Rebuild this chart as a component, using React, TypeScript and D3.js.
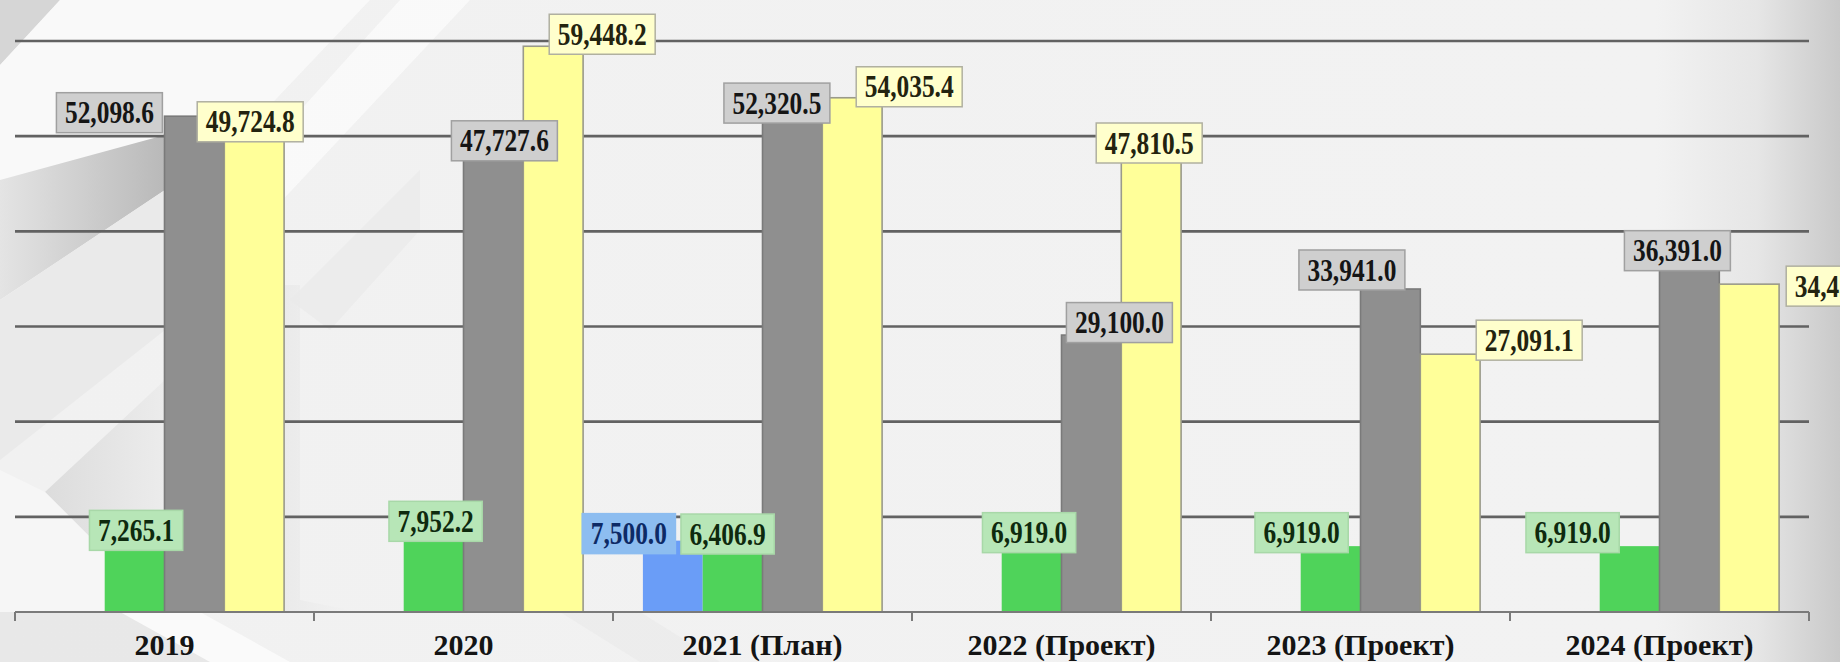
import React from "react";
import * as d3 from "d3";

const categories = ["2019", "2020", "2021 (План)", "2022 (Проект)", "2023 (Проект)", "2024 (Проект)"];
const seriesKeys = ["blue", "green", "gray", "yellow"];
const blueValues: (number | null)[] = [null, null, 7500.0, null, null, null];
const greenValues: (number | null)[] = [7265.1, 7952.2, 6406.9, 6919.0, 6919.0, 6919.0];
const grayValues: (number | null)[] = [52098.6, 47727.6, 52320.5, 29100.0, 33941.0, 36391.0];
const yellowValues: (number | null)[] = [49724.8, 59448.2, 54035.4, 47810.5, 27091.1, 34450.0];
const yTicks = [10000, 20000, 30000, 40000, 50000, 60000];

// label box centre offsets from the top-centre of each bar (layout only)
const blueLabelOffsets = [[0, 0], [0, 0], [-44, -7], [0, 0], [0, 0], [0, 0]];
const greenLabelOffsets = [[1.5, -12.5], [2, -15], [-5, -17], [-2.5, -13.5], [-29, -13.5], [-57, -13.5]];
const grayLabelOffsets = [[-85, -3.5], [11, -17], [-15.5, -11], [28, -12.5], [-38.5, -19], [-12, -15]];
const yellowLabelOffsets = [[-4, -17], [49, -12], [57, -11], [-2, -14], [79, -14], [90, 2]];

const W = 1840;
const H = 662;

const styles: Record<string, any> = {
  blue: { bar: "#6a9df7", stroke: "none", box: "#8dbdf0", boxStroke: "#8dbdf0", text: "#0d2a66" },
  green: { bar: "#4fd35a", stroke: "none", box: "#b7e6b7", boxStroke: "#a8d8a8", text: "#0e2a0e" },
  gray: { bar: "#8f8f8f", stroke: "#7a7a7a", box: "#cfcfcf", boxStroke: "#a0a0a0", text: "#151515" },
  yellow: { bar: "#ffff99", stroke: "#9a9a8a", box: "#ffffcc", boxStroke: "#b0b0a0", text: "#23230f" },
};

export default function App() {
  const x = d3.scaleBand<string>().domain(categories).range([15, 1809]).paddingInner(0).paddingOuter(0);
  const bw = x.bandwidth();
  const x1 = d3.scaleBand<string>().domain(seriesKeys).range([bw * 0.1, bw * 0.9]).padding(0);
  const y = d3.scaleLinear().domain([0, 60000]).range([612, 41]);
  const fmt = d3.format(",.1f");

  const seriesValues: Record<string, (number | null)[]> = {
    blue: blueValues,
    green: greenValues,
    gray: grayValues,
    yellow: yellowValues,
  };
  const seriesOffsets: Record<string, number[][]> = {
    blue: blueLabelOffsets,
    green: greenLabelOffsets,
    gray: grayLabelOffsets,
    yellow: yellowLabelOffsets,
  };

  const fontSize = 31;
  const sx = 0.82;
  const textWidth = (s: string) => {
    let w = 0;
    for (const ch of s) w += ch === "," || ch === "." ? 0.25 : 0.5;
    return w * fontSize * sx;
  };

  const bars: any[] = [];
  const labels: any[] = [];
  seriesKeys.forEach((k) => {
    seriesValues[k].forEach((v, i) => {
      if (v == null) return;
      const bx = (x(categories[i]) as number) + (x1(k) as number);
      const by = y(v);
      const st = styles[k];
      bars.push(
        <rect key={`b-${k}-${i}`} x={bx} y={by} width={x1.bandwidth()} height={y(0) - by}
          fill={st.bar} stroke={st.stroke} strokeWidth={st.stroke === "none" ? 0 : 1.6} />
      );
      const [dx, dy] = seriesOffsets[k][i];
      const cx = bx + x1.bandwidth() / 2 + dx;
      const cy = by + dy;
      const txt = fmt(v);
      const bwid = textWidth(txt) + 17;
      labels.push(
        <g key={`l-${k}-${i}`} transform={`translate(${cx},${cy})`}>
          <rect x={-bwid / 2} y={-20} width={bwid} height={40} fill={st.box} stroke={st.boxStroke} strokeWidth={1.5} />
          <text transform={`scale(${sx},1)`} textAnchor="middle" y={10.5} fontFamily="'Liberation Serif', 'Times New Roman', serif"
            fontWeight="bold" fontSize={fontSize} fill={st.text}>{txt}</text>
        </g>
      );
    });
  });

  return (
    <svg width={W} height={H} style={{ position: "absolute", left: 0, top: 0, display: "block" }}>
      <defs>
        <linearGradient id="bg" x1="0" y1="0" x2="1" y2="0">
          <stop offset="0" stopColor="#f1f1f1" />
          <stop offset="0.9" stopColor="#f2f2f2" />
          <stop offset="0.955" stopColor="#e6e6e6" />
          <stop offset="1" stopColor="#c9c9c9" />
        </linearGradient>
        <linearGradient id="wedge" x1="0" y1="0" x2="1" y2="0">
          <stop offset="0" stopColor="#e4e4e4" />
          <stop offset="1" stopColor="#b9b9b9" />
        </linearGradient>
        <linearGradient id="chev" x1="0" y1="0" x2="1" y2="0">
          <stop offset="0" stopColor="#dcdcdc" />
          <stop offset="1" stopColor="#ececec" />
        </linearGradient>
        <linearGradient id="chev2" x1="0" y1="0" x2="1" y2="0">
          <stop offset="0" stopColor="#e6e6e6" />
          <stop offset="1" stopColor="#f3f3f3" />
        </linearGradient>
      </defs>
      <rect x={0} y={0} width={W} height={H} fill="url(#bg)" />
      {/* decorative background shapes */}
      <polygon points="0,0 60,0 0,65" fill="#d6d6d6" />
      <polygon points="60,0 370,0 0,390 0,65" fill="#fafafa" opacity={0.9} />
      <polygon points="400,0 470,0 170,320 165,260" fill="#fbfbfb" opacity={0.8} />
      <polygon points="0,180 165,135 165,190 0,300" fill="url(#wedge)" />
      <polygon points="0,300 165,190 165,330 0,460" fill="#eaeaea" />
      <polygon points="45,492 165,380 165,612 " fill="url(#chev)" />
      <polygon points="0,470 45,492 165,612 0,612" fill="#f6f6f6" />
      <polygon points="285,285 300,285 300,600 360,612 285,612" fill="url(#chev2)" opacity={0.6} />
      <polygon points="290,300 420,170 420,230 330,330" fill="#e9e9e9" opacity={0.7} />
      <polygon points="0,612 170,612 260,662 0,662" fill="#e3e3e3" opacity={0.6} />
      <polygon points="120,612 200,612 290,662 210,662" fill="#fafafa" />
      <polygon points="560,612 640,612 720,662 640,662" fill="#e9e9e9" opacity={0.6} />

      {/* gridlines */}
      {yTicks.map((t) => (
        <line key={t} x1={15} x2={1809} y1={y(t)} y2={y(t)} stroke="#626262" strokeWidth={2.6} />
      ))}

      {bars}

      {/* x axis */}
      <line x1={15} x2={1809} y1={y(0)} y2={y(0)} stroke="#7a7a7a" strokeWidth={2.2} />
      {d3.range(categories.length + 1).map((i) => {
        const tx = i < categories.length ? (x(categories[i]) as number) : 15 + bw * categories.length;
        return <line key={`t-${i}`} x1={tx} x2={tx} y1={y(0)} y2={y(0) + 9} stroke="#7a7a7a" strokeWidth={2} />;
      })}
      {categories.map((c) => (
        <text key={c} x={(x(c) as number) + bw / 2} y={655} textAnchor="middle"
          fontFamily="'Liberation Serif', 'Times New Roman', serif" fontWeight="bold" fontSize={30} fill="#141414">
          {c}
        </text>
      ))}

      {labels}
    </svg>
  );
}
